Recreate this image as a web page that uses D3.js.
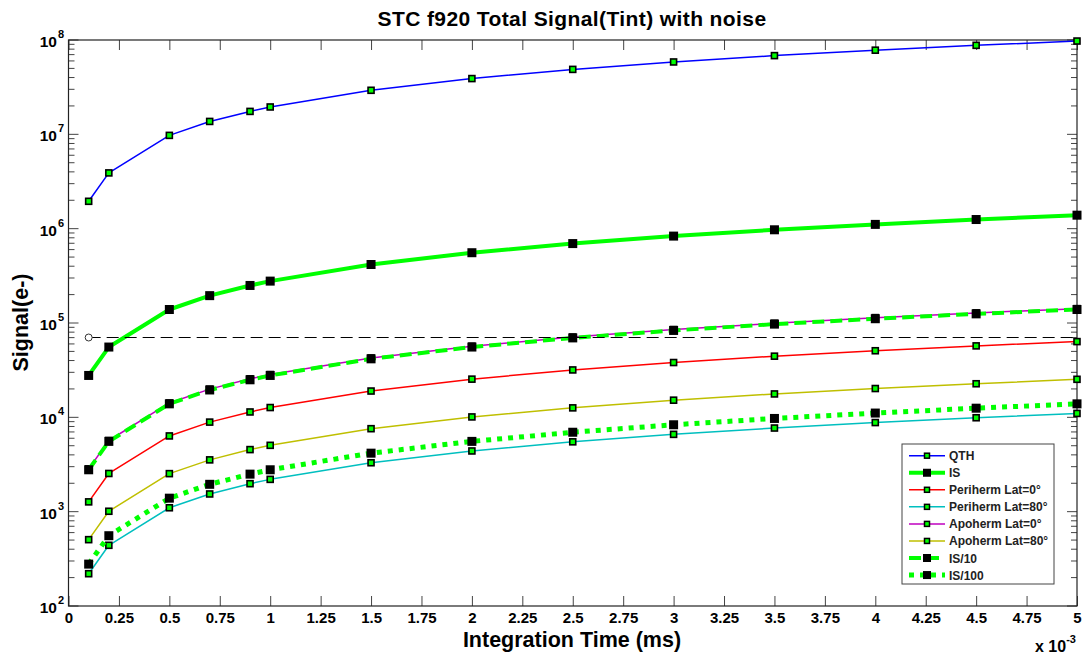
<!DOCTYPE html>
<html><head><meta charset="utf-8">
<script src="https://cdn.jsdelivr.net/npm/d3@7"></script>
<style>body{margin:0;background:#fff}svg{display:block;font-family:"Liberation Sans",Arial,sans-serif}</style>
</head><body><svg id="c" width="1082" height="656"></svg>
<script>
const times = [0.1,0.2,0.5,0.7,0.9,1,1.5,2,2.5,3,3.5,4,4.5,5];
const qth = [1.95e6,3.9e6,9.75e6,1.37e7,1.75e7,1.95e7,2.93e7,3.9e7,4.88e7,5.85e7,6.83e7,7.8e7,8.78e7,9.75e7];
const is = [2.78e4,5.56e4,1.39e5,1.95e5,2.5e5,2.78e5,4.17e5,5.56e5,6.95e5,8.34e5,9.73e5,1.11e6,1.25e6,1.39e6];
const peri0 = [1.27e3,2.54e3,6.35e3,8.9e3,1.14e4,1.27e4,1.9e4,2.54e4,3.18e4,3.81e4,4.45e4,5.08e4,5.72e4,6.35e4];
const peri80 = [220,440,1.1e3,1.54e3,1.98e3,2.2e3,3.3e3,4.4e3,5.5e3,6.6e3,7.7e3,8.8e3,9.9e3,1.1e4];
const apo0 = [2.84e3,5.68e3,1.42e4,1.99e4,2.56e4,2.84e4,4.26e4,5.68e4,7.1e4,8.52e4,9.94e4,1.14e5,1.28e5,1.42e5];
const apo80 = [505,1.01e3,2.53e3,3.54e3,4.55e3,5.05e3,7.58e3,1.01e4,1.26e4,1.52e4,1.77e4,2.02e4,2.27e4,2.53e4];
const is10 = [2.78e3,5.56e3,1.39e4,1.95e4,2.5e4,2.78e4,4.17e4,5.56e4,6.95e4,8.34e4,9.73e4,1.11e5,1.25e5,1.39e5];
const is100 = [278,556,1.39e3,1.95e3,2.5e3,2.78e3,4.17e3,5.56e3,6.95e3,8.34e3,9.73e3,1.11e4,1.25e4,1.39e4];
const noiseLevel = 7.1e4;
const noiseRange = [0.1, 5];
const xTicks = [0,0.25,0.5,0.75,1,1.25,1.5,1.75,2,2.25,2.5,2.75,3,3.25,3.5,3.75,4,4.25,4.5,4.75,5];
const xTickLabels = ["0","0.25","0.5","0.75","1","1.25","1.5","1.75","2","2.25","2.5","2.75","3","3.25","3.5","3.75","4","4.25","4.5","4.75","5"];
const yDecades = [2,3,4,5,6,7,8];
const seriesNames = ["QTH","IS","Periherm Lat=0°","Periherm Lat=80°","Apoherm Lat=0°","Apoherm Lat=80°","IS/10","IS/100"];

const series = [
  {name:seriesNames[0], v:qth,   color:"#0000ff", w:1.5, dash:null, big:false},
  {name:seriesNames[1], v:is,    color:"#00ff00", w:4,   dash:null, big:true},
  {name:seriesNames[2], v:peri0, color:"#ff0000", w:1.5, dash:null, big:false},
  {name:seriesNames[3], v:peri80,color:"#00bfbf", w:1.5, dash:null, big:false},
  {name:seriesNames[4], v:apo0,  color:"#bf00bf", w:1.5, dash:null, big:false},
  {name:seriesNames[5], v:apo80, color:"#bfbf00", w:1.5, dash:null, big:false},
  {name:seriesNames[6], v:is10,  color:"#00ff00", w:4,   dash:"12,6", big:true},
  {name:seriesNames[7], v:is100, color:"#00ff00", w:5,   dash:"5,6", big:true}
];

const L=68.5, R=1077, T=40, B=606;
const svg = d3.select("#c");
const x = d3.scaleLinear().domain([0,5]).range([L,R]);
const y = d3.scaleLog().domain([1e2,1e8]).range([B,T]);

const g = svg.append("g");
g.append("g").attr("transform",`translate(0,${B})`)
  .call(d3.axisBottom(x).tickValues(xTicks).tickFormat((d,i)=>xTickLabels[i]).tickSizeInner(-10).tickSizeOuter(0).tickPadding(6))
  .call(a=>{a.select(".domain").remove(); a.selectAll("line").attr("stroke","#444");
    a.selectAll("text").attr("font-size","15px").attr("font-weight","bold").attr("fill","#000");});
g.append("g").attr("transform",`translate(0,${T})`)
  .call(d3.axisTop(x).tickValues(xTicks).tickFormat("").tickSizeInner(-10).tickSizeOuter(0))
  .call(a=>{a.select(".domain").remove(); a.selectAll("line").attr("stroke","#444");});
const minor=[];
for(let e=2;e<8;e++) for(let k=2;k<=9;k++) minor.push(k*Math.pow(10,e));
const major = yDecades.map(e=>Math.pow(10,e));
[[L,1],[R,-1]].forEach(([xx,dir])=>{
  g.selectAll(null).data(major).enter().append("line")
    .attr("x1",xx).attr("x2",xx+dir*10).attr("y1",d=>y(d)).attr("y2",d=>y(d)).attr("stroke","#444");
  g.selectAll(null).data(minor).enter().append("line")
    .attr("x1",xx).attr("x2",xx+dir*6).attr("y1",d=>y(d)).attr("y2",d=>y(d)).attr("stroke","#444");
});
const yl = g.selectAll(null).data(yDecades).enter().append("text")
  .attr("x",57).attr("y",d=>y(Math.pow(10,d))+7)
  .attr("font-size","15.5px").attr("font-weight","bold");
yl.append("tspan").attr("text-anchor","end").text("10");
yl.append("tspan").attr("x",58).attr("dy",-9).attr("font-size","11px").text(d=>d);
yl.attr("text-anchor","end");
// place exponents to the right of "10"
yl.each(function(d){
  const t=d3.select(this); t.attr("text-anchor",null);
  t.selectAll("tspan").remove();
  t.append("tspan").attr("x",57).attr("text-anchor","end").text("10");
  t.append("tspan").attr("x",58).attr("dy",-9).attr("font-size","11px").attr("text-anchor","start").text(d);
});

svg.append("rect").attr("x",L).attr("y",T).attr("width",R-L).attr("height",B-T)
  .attr("fill","none").attr("stroke","#222").attr("stroke-width",1.2);

const line = d3.line().x((d,i)=>x(times[i])).y(d=>y(d));
const plot = svg.append("g");
series.forEach(s=>{
  plot.append("path").attr("d",line(s.v)).attr("fill","none").attr("stroke",s.color)
    .attr("stroke-width",s.w).attr("stroke-dasharray",s.dash).attr("stroke-linejoin","round");
  const m = s.big?9:6;
  plot.selectAll(null).data(s.v).enter().append("rect")
    .attr("x",(d,i)=>x(times[i])-m/2).attr("y",d=>y(d)-m/2).attr("width",m).attr("height",m)
    .attr("fill",s.big?"#000":"#00ff00").attr("stroke","#000").attr("stroke-width",s.big?0:1.6);
});
plot.append("line").attr("x1",x(noiseRange[0])).attr("x2",x(noiseRange[1]))
  .attr("y1",Math.round(y(noiseLevel))+0.5).attr("y2",Math.round(y(noiseLevel))+0.5).attr("stroke","#000").attr("stroke-width",1)
  .attr("stroke-dasharray","12,6");
plot.append("circle").attr("cx",x(noiseRange[0])).attr("cy",Math.round(y(noiseLevel))+0.5).attr("r",3.5)
  .attr("fill","#fff").attr("stroke","#333").attr("stroke-width",1);

const lg = svg.append("g");
const lx=902, ly=444, lw=152, lh=140;
lg.append("rect").attr("x",lx).attr("y",ly).attr("width",lw).attr("height",lh).attr("fill","#fff").attr("stroke","#444");
series.forEach((s,i)=>{
  const yy = ly+11.7+i*17.05;
  lg.append("line").attr("x1",909).attr("x2",945).attr("y1",yy).attr("y2",yy)
    .attr("stroke",s.color).attr("stroke-width",s.w).attr("stroke-dasharray",s.dash);
  const m = s.big?8:5;
  lg.append("rect").attr("x",927-m/2).attr("y",yy-m/2).attr("width",m).attr("height",m)
    .attr("fill",s.big?"#000":"#00ff00").attr("stroke","#000").attr("stroke-width",s.big?0:1.5);
  lg.append("text").attr("x",949).attr("y",yy+4.5).attr("font-size","12px").attr("font-weight","bold")
    .attr("fill","#222").text(s.name);
});

svg.append("text").attr("x",572).attr("y",26).attr("text-anchor","middle").attr("letter-spacing","0.4px")
  .attr("font-size","21px").attr("font-weight","bold").text("STC f920 Total Signal(Tint) with noise");
svg.append("text").attr("x",572).attr("y",647).attr("text-anchor","middle")
  .attr("font-size","21.5px").attr("font-weight","bold").text("Integration Time (ms)");
svg.append("text").attr("transform","translate(28,322.5) rotate(-90)").attr("text-anchor","middle")
  .attr("font-size","21.5px").attr("font-weight","bold").text("Signal(e-)");
const xm = svg.append("text").attr("x",1035).attr("y",652).attr("font-size","16px").attr("font-weight","bold");
xm.append("tspan").text("x 10");
xm.append("tspan").attr("dy",-9).attr("font-size","11px").text("-3");
</script></body></html>
